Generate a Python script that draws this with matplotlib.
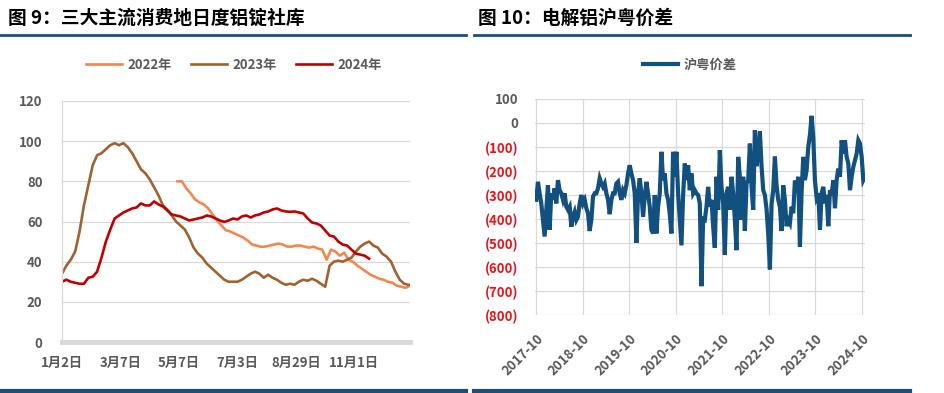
import matplotlib
matplotlib.use("Agg")
import matplotlib.pyplot as plt
import numpy as np
import pandas as pd
import matplotlib.dates as mdates
from matplotlib.lines import Line2D

plt.rcParams['font.family'] = ['Noto Sans CJK SC', 'DejaVu Sans']

# ---------------- data: left chart (trading-day index, 10k t) ----------------
day_2022 = list(range(79, 239, 3))
val_2022 = [80, 80, 76.5, 74, 71, 69.5, 68.5, 66.5, 63.5, 60.5, 58, 55.7, 55, 54, 53, 52,
            50.5, 48.5, 48, 47.4, 47.5, 48, 48.5, 49, 48.5, 47.5, 47.5, 48, 48, 47.5, 47,
            47.5, 46.5, 46, 41, 46, 45, 43, 44.5, 40.8, 40, 38, 36.5, 35, 33.5, 32.5, 31.5,
            31, 30, 29.5, 28, 27.5, 27, 28]

day_2023 = list(range(0, 240, 3))
val_2023 = [34, 38, 41, 45, 55, 68, 78, 88, 93, 94, 96, 98, 99, 98, 99, 97, 94, 90, 86, 84,
            81, 77, 73, 68, 66, 63, 60, 58, 56, 52, 47, 44, 42, 39, 37, 35, 33, 31, 30, 30,
            30, 31, 32.5, 34, 35, 34, 32, 33.5, 32, 31, 29.5, 28.5, 29, 28.5, 30, 31, 30.5,
            31.5, 30.5, 29, 27.5, 38, 40, 40.5, 40, 41, 42, 45, 47.5, 49, 50, 48, 47, 44,
            42.5, 40, 35, 31, 29, 28.5]

day_2024 = list(range(0, 211, 3))
val_2024 = [30, 31, 30, 29.5, 29, 29, 32, 32.5, 35, 42, 50, 56, 61.5, 63, 64.5, 65.5, 66.5,
            67, 69, 68, 68, 70, 68.5, 67.5, 65.5, 63.5, 63, 62.5, 61.5, 60.5, 61, 61.5, 62,
            63, 62.5, 61.5, 60.5, 59.8, 60.5, 61.5, 61, 62.5, 63, 62, 63, 63.5, 64.5, 65, 66,
            66.5, 65.5, 65, 64.8, 65, 64.5, 64, 61.5, 59.5, 59, 58, 55.5, 53, 52.5, 50, 48.5,
            48, 46, 44, 43.5, 43, 41.5]

left_tick_days = [0, 40, 80, 120, 160, 200]
left_tick_labels = ["1月2日", "3月7日", "5月7日", "7月3日", "8月29日", "11月1日"]

# ---------------- data: right chart (yuan/t) ----------------
spread_start = "2017-10-03"
spread_end = "2024-10-24"
spread = [
    # 2017-10 .. 2019-12
    -320, -245, -293, -335, -404, -473, -362, -259, -445, -293, -320, -272, -335, -238,
    -280, -293, -320, -293, -349, -362, -349, -432, -390, -370, -404, -390, -335, -300,
    -335, -320, -355, -376, -450, -404, -307, -293, -293, -272, -231, -252, -266, -252,
    -293, -320, -380, -320, -293, -293, -252, -245, -293, -320, -280, -293, -259, -210,
    -176, -210, -238, -293, -500, -293, -231,
    # 2019-12 .. 2022-09
    -293, -390, -307, -245, -293, -349, -445, -460, -300, -460, -349, -293, -120, -238,
    -210, -293, -320, -380, -460, -120, -224, -120, -293, -404, -510, -300, -169, -238,
    -176, -280, -210, -293, -280, -293, -300, -335, -680, -400, -404, -349, -266, -349,
    -320, -432, -520, -224, -362, -113, -266, -335, -550, -293, -266, -362, -224, -293,
    -404, -530, -141, -224, -404, -224, -450, -252, -238, -86, -266,
    # 2022-09 .. 2024-10
    -362, -30, -180, -130, -35, -180, -280, -300, -360, -460, -610, -340, -280, -140,
    -260, -320, -349, -450, -260, -320, -430, -404, -418, -349, -376, -240, -290, -224,
    -515, -290, -141, -238, -197, -100, -50, 30, -60, -240, -310, -293, -445, -293,
    -266, -335, -300, -430, -280, -300, -238, -355, -238, -190, -224, -72, -127, -72,
    -141, -169, -280, -224, -183, -155, -127, -72, -86, -141, -238, -224,
]
right_tick_years = [2017, 2018, 2019, 2020, 2021, 2022, 2023, 2024]
right_yticks = [100, 0, -100, -200, -300, -400, -500, -600, -700, -800]

# ---------------- styling ----------------
W, H = 944, 393
fig = plt.figure(figsize=(W / 100, H / 100), dpi=100)

def fx(px):
    return px / W

def fy(py):
    return 1 - py / H

GRAY = '#595959'
GRID = '#D9D9D9'
NAVY = '#1B4E78'

fig.text(fx(8), fy(18), "图 9：三大主流消费地日度铝锭社库", fontsize=13.5, weight='bold',
         va='center', ha='left', color='black')
fig.text(fx(478), fy(18), "图 10：电解铝沪粤价差", fontsize=13.5, weight='bold',
         va='center', ha='left', color='black')
for x0, x1 in [(0, 466), (474, 910)]:
    fig.add_artist(Line2D([fx(x0), fx(x1)], [fy(35), fy(35)], color=NAVY, lw=2.0))
    fig.add_artist(Line2D([fx(x0), fx(x1)], [fy(391), fy(391)], color=NAVY, lw=3.0))

# ---------------- left chart ----------------
ax1 = fig.add_axes([fx(62), fy(342), fx(410 - 62), (342 - 101) / H])
ax1.plot(day_2022, val_2022, color='#F4874F', lw=1.9, label='2022年')
ax1.plot(day_2023, val_2023, color='#A0632F', lw=1.9, label='2023年')
ax1.plot(day_2024, val_2024, color='#C00000', lw=1.9, label='2024年')
ax1.set_xlim(0, 238)
ax1.set_ylim(0, 120)
ax1.set_yticks(range(0, 121, 20))
ax1.set_xticks(left_tick_days)
ax1.set_xticklabels(left_tick_labels)
ax1.grid(axis='y', color=GRID, lw=0.9)
ax1.set_axisbelow(True)
for s in ['top', 'right']:
    ax1.spines[s].set_visible(False)
ax1.spines['bottom'].set_color(GRID)
ax1.spines['bottom'].set_linewidth(3.5)
ax1.spines['left'].set_color(GRID)
ax1.spines['left'].set_linewidth(0.9)
ax1.tick_params(axis='both', length=0, labelsize=9.5, labelcolor=GRAY)
ax1.tick_params(axis='y', pad=14)
ax1.tick_params(axis='x', pad=10)
for t in ax1.get_xticklabels() + ax1.get_yticklabels():
    t.set_fontweight('bold')
leg1 = ax1.legend(loc='center', bbox_to_anchor=(fx(234), fy(65)), bbox_transform=fig.transFigure,
                  ncol=3, frameon=False, handlelength=2.7, handletextpad=0.4, columnspacing=1.5,
                  prop=dict(weight='bold', size=9.5), labelcolor=GRAY)

# ---------------- right chart ----------------
dates = pd.date_range(spread_start, spread_end, periods=len(spread))
ax2 = fig.add_axes([fx(535), fy(315), fx(865 - 535), (315 - 99) / H])
ax2.plot(dates, spread, color='#12507F', lw=3.0, label='沪粤价差', solid_joinstyle='miter')
ax2.set_xlim(pd.Timestamp('2017-09-23'), pd.Timestamp(spread_end))
ax2.set_ylim(-800, 100)
ax2.set_yticks(right_yticks)
ax2.set_yticklabels([f"({-v})" if v < 0 else f"{v}" for v in right_yticks])
xt = [pd.Timestamp(f"{y}-10-01") for y in right_tick_years]
ax2.set_xticks(xt)
ax2.set_xticklabels([f"{y}-10" for y in right_tick_years], rotation=45, ha='right', va='top',
                    rotation_mode='anchor')
ax2.grid(True, color=GRID, lw=0.9)
ax2.set_axisbelow(True)
for s in ax2.spines.values():
    s.set_visible(False)
ax2.tick_params(axis='both', length=0, labelsize=9.5, labelcolor=GRAY)
ax2.tick_params(axis='y', pad=12)
ax2.tick_params(axis='x', pad=12)
for t, v in zip(ax2.get_yticklabels(), right_yticks):
    t.set_fontweight('bold')
    if v < 0:
        t.set_color('#E8141B')
for t in ax2.get_xticklabels():
    t.set_fontweight('bold')
leg2 = ax2.legend(loc='center', bbox_to_anchor=(fx(689.5), fy(65)), bbox_transform=fig.transFigure,
                  ncol=1, frameon=False, handlelength=2.7, handletextpad=0.4,
                  prop=dict(weight='bold', size=9.5), labelcolor=GRAY)

fig.savefig("out.png", dpi=100)
